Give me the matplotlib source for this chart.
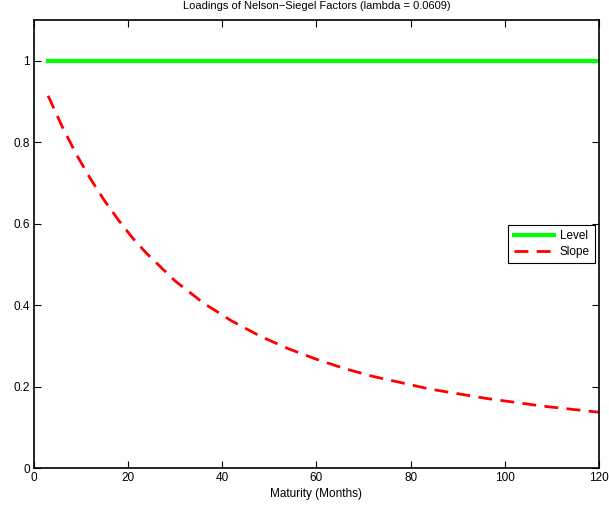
import numpy as np
import matplotlib
matplotlib.use('Agg')
import matplotlib.pyplot as plt

# maturities in months and factor loadings
maturity = [3, 6, 9, 12, 15, 18, 21, 24, 30, 36, 42, 48, 54, 60, 66, 72, 84, 96, 108, 120]
level = [1.0] * len(maturity)
slope = [0.914, 0.838, 0.770, 0.710, 0.656, 0.608, 0.564, 0.526, 0.459, 0.405,
         0.361, 0.324, 0.293, 0.267, 0.244, 0.225, 0.194, 0.171, 0.152, 0.137]

plt.rcParams['font.family'] = ['Liberation Sans', 'DejaVu Sans']
plt.rcParams['font.size'] = 8.5

fig = plt.figure(figsize=(6.09, 5.08), dpi=100)
ax = fig.add_axes([0.0558, 0.0787, 0.9278, 0.8819])

ax.plot(maturity, level, color='#00ff00', lw=3, label='Level')
ax.plot(maturity, slope, color='red', lw=2, ls=(0, (5, 3)), label='Slope')

ax.set_xlim(0, 120)
ax.set_ylim(0, 1.1)
ax.set_xticks([0, 20, 40, 60, 80, 100, 120])
ax.set_yticks([0, 0.2, 0.4, 0.6, 0.8, 1])
ax.set_yticklabels(['0', '0.2', '0.4', '0.6', '0.8', '1'])
ax.tick_params(direction='in', top=True, right=True, length=5, width=0.8, pad=3)
for s in ax.spines.values():
    s.set_linewidth(1.2)

ax.set_xlabel('Maturity (Months)', labelpad=3)
ax.set_title('Loadings of Nelson\u2212Siegel Factors (lambda = 0.0609)', fontsize=8, pad=8)

leg = ax.legend(loc='center right', bbox_to_anchor=(0.993, 0.5), fancybox=False,
                framealpha=1, edgecolor='black', handlelength=3.4, borderpad=0.45,
                labelspacing=0.35, handletextpad=0.5, borderaxespad=0)
leg.get_frame().set_linewidth(0.8)

fig.savefig('out.png', dpi=100)
